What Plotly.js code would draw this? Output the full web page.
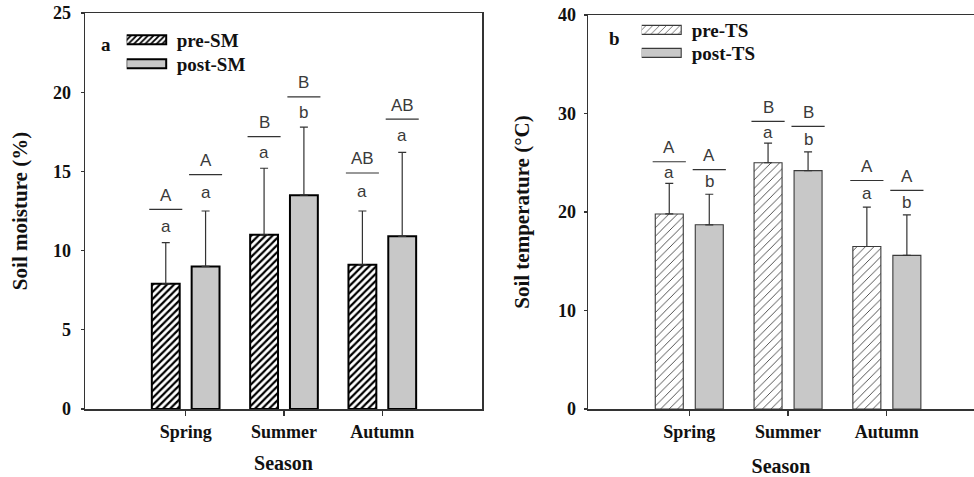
<!DOCTYPE html>
<html>
<head>
<meta charset="utf-8">
<script src="https://cdn.plot.ly/plotly-3.0.1.min.js"></script>
<style>html,body{margin:0;padding:0;background:#fff;}</style>
</head>
<body>
<div id="chart" style="width:974px;height:477px;"></div>
<script>
// ---- data ----
const seasons = ['Spring', 'Summer', 'Autumn'];
const seasonIdx = [0, 1, 2];

const preSM = [7.9, 11.0, 9.1];
const preSMErr = [2.6, 4.2, 3.4];
const postSM = [9.0, 13.5, 10.9];
const postSMErr = [3.5, 4.3, 5.3];

const preTS = [19.8, 25.0, 16.5];
const preTSErr = [3.1, 2.0, 4.0];
const postTS = [18.7, 24.2, 15.6];
const postTSErr = [3.1, 1.9, 4.1];

// significance letters (lowercase: within season pre vs post; uppercase: among seasons)
const preSMLower = ['a', 'a', 'a'];
const preSMUpper = ['A', 'B', 'AB'];
const preSMLine = [12.6, 17.2, 14.9];
const postSMLower = ['a', 'b', 'a'];
const postSMUpper = ['A', 'B', 'AB'];
const postSMLine = [14.8, 19.7, 18.3];

const preTSLower = ['a', 'a', 'a'];
const preTSUpper = ['A', 'B', 'A'];
const preTSLine = [25.1, 29.2, 23.2];
const postTSLower = ['b', 'b', 'b'];
const postTSUpper = ['A', 'B', 'A'];
const postTSLine = [24.3, 28.7, 22.2];

// ---- styling ----
const serif = 'Liberation Serif, Times New Roman, serif';
const sans = 'Liberation Sans, Arial, sans-serif';
const tickFont = {family: serif, size: 18, color: '#111', weight: 'bold'};
const titleFont = {family: serif, size: 20, color: '#111', weight: 'bold'};
const yTitleFont = {family: serif, size: 21, color: '#111', weight: 'bold'};
const legendFont = {family: serif, size: 19, color: '#111', weight: 'bold'};
const letterFont = {family: sans, size: 17, color: '#3a3a3a'};
const gray = '#c8c8c8';
const bargap = 0.19, bargroupgap = 0.3;
const halfSlot = (1 - bargap) / 4;
const lineHalf = 0.168;

const zeros = [0, 0, 0];
function bar(name, y, err, legend, xa, ya, hatched, heavy) {
  const lc = heavy ? '#000' : '#3a3a3a';
  const marker = {
    color: hatched ? '#ffffff' : gray,
    line: {color: lc, width: heavy ? 2 : 1.1}
  };
  if (hatched) {
    marker.pattern = heavy
      ? {shape: '/', fgcolor: '#000', bgcolor: '#fff', size: 5, solidity: 0.45, fillmode: 'replace'}
      : {shape: '/', fgcolor: '#333', bgcolor: '#fff', size: 6, solidity: 0.14, fillmode: 'replace'};
  }
  return {
    type: 'bar', name: name, x: seasonIdx, y: y, xaxis: xa, yaxis: ya, legend: legend,
    marker: marker,
    error_y: {type: 'data', symmetric: false, array: err, arrayminus: zeros,
              color: '#333', thickness: 1.2, width: 4},
    hoverinfo: 'x+y'
  };
}

const data = [
  bar('pre-SM', preSM, preSMErr, 'legend', 'x', 'y', true, true),
  bar('post-SM', postSM, postSMErr, 'legend', 'x', 'y', false, true),
  bar('pre-TS', preTS, preTSErr, 'legend2', 'x2', 'y2', true, false),
  bar('post-TS', postTS, postTSErr, 'legend2', 'x2', 'y2', false, false)
];

const annotations = [];
const shapes = [];
function sig(xref, yref, side, vals, errs, lines, lower, upper) {
  for (let i = 0; i < vals.length; i++) {
    const xc = seasonIdx[i] + side * halfSlot;
    shapes.push({type: 'line', xref: xref, yref: yref,
      x0: xc - lineHalf, x1: xc + lineHalf, y0: lines[i], y1: lines[i],
      line: {color: '#333', width: 1.2}});
    annotations.push({xref: xref, yref: yref, x: xc, y: (vals[i] + errs[i] + lines[i]) / 2,
      text: lower[i], showarrow: false, font: letterFont, yanchor: 'middle'});
    annotations.push({xref: xref, yref: yref, x: xc, y: lines[i], yshift: 14,
      text: upper[i], showarrow: false, font: letterFont, yanchor: 'middle'});
  }
}
sig('x', 'y', -1, preSM, preSMErr, preSMLine, preSMLower, preSMUpper);
sig('x', 'y', 1, postSM, postSMErr, postSMLine, postSMLower, postSMUpper);
sig('x2', 'y2', -1, preTS, preTSErr, preTSLine, preTSLower, preTSUpper);
sig('x2', 'y2', 1, postTS, postTSErr, postTSLine, postTSLower, postTSUpper);

// panel labels
annotations.push({xref: 'paper', yref: 'paper', x: (106 - 85) / 889, y: 1 - (45 - 13) / 396,
  text: 'a', showarrow: false, font: legendFont, xanchor: 'center', yanchor: 'middle'});
annotations.push({xref: 'paper', yref: 'paper', x: (614 - 85) / 889, y: 1 - (38 - 13) / 396,
  text: 'b', showarrow: false, font: legendFont, xanchor: 'center', yanchor: 'middle'});

const axisCommon = {
  showline: true, linecolor: '#333', linewidth: 1.5, showgrid: false, zeroline: false,
  ticks: 'outside', tickcolor: '#333', tickwidth: 1.2, tickfont: tickFont
};

const layout = {
  width: 974, height: 477,
  margin: {l: 85, r: 0, t: 13, b: 68},
  paper_bgcolor: '#fff', plot_bgcolor: '#fff',
  barmode: 'group', bargap: bargap, bargroupgap: bargroupgap,
  showlegend: true,
  xaxis: Object.assign({}, axisCommon, {
    domain: [0, 397 / 889], anchor: 'y', range: [-1.024, 3.014],
    tickvals: seasonIdx, ticktext: seasons, ticklen: 5, mirror: true, ticklabelstandoff: 1,
    title: {text: 'Season', font: titleFont, standoff: 15}
  }),
  yaxis: Object.assign({}, axisCommon, {
    domain: [0, 1], anchor: 'x', range: [0, 25], tickvals: [0, 5, 10, 15, 20, 25],
    ticklen: 3, mirror: true, ticklabelstandoff: 6,
    title: {text: 'Soil moisture (%)', font: yTitleFont, standoff: 19}
  }),
  xaxis2: Object.assign({}, axisCommon, {
    domain: [503 / 889, 1], anchor: 'y2', range: [-1.025, 2.882],
    tickvals: seasonIdx, ticktext: seasons, ticklen: 5, mirror: true, ticklabelstandoff: 1,
    title: {text: 'Season', font: titleFont, standoff: 19}
  }),
  yaxis2: Object.assign({}, axisCommon, {
    domain: [0, 394 / 396], anchor: 'x2', range: [0, 40], tickvals: [0, 10, 20, 30, 40],
    ticklen: 3, mirror: false, ticklabelstandoff: 4,
    title: {text: 'Soil temperature (°C)', font: yTitleFont, standoff: 22}
  }),
  legend: {x: (126.7 - 85) / 889, y: 1 - (21 - 13) / 396, xanchor: 'left', yanchor: 'top',
    bgcolor: 'rgba(0,0,0,0)', font: legendFont, itemwidth: 40, tracegroupgap: 0, borderwidth: 0},
  legend2: {x: (641.7 - 85) / 889, y: 1, xanchor: 'left', yanchor: 'top',
    bgcolor: 'rgba(0,0,0,0)', font: legendFont, itemwidth: 40, tracegroupgap: 0, borderwidth: 0},
  annotations: annotations,
  shapes: shapes
};

function fixLegends(gd) {
  // flat, wide swatches and tighter rows, as in the original figure
  const groups = gd.querySelectorAll('g.scrollbox');
  groups.forEach(function (box) {
    const items = box.querySelectorAll('g.traces');
    const isSecond = !!box.closest('.legend2');
    let y0 = null;
    items.forEach(function (tr, k) {
      const txt = tr.querySelector('text.legendtext');
      const tx = txt ? (parseFloat(txt.getAttribute('x')) || 50) : 50;
      const x1 = tx - 10.5, x0 = x1 - 40;
      tr.querySelectorAll('g.legendpoints path').forEach(function (p) {
        p.removeAttribute('transform');
        p.setAttribute('d', 'M' + x1 + ',4.5H' + x0 + 'V-4.5H' + x1 + 'Z');
      });
      if (!tr.hasAttribute('data-base')) {
        tr.setAttribute('data-base', tr.getAttribute('transform') || '');
      }
      const m = /translate\(\s*([-\d.]+)[ ,]+([-\d.]+)/.exec(tr.getAttribute('data-base'));
      if (m) {
        const x = parseFloat(m[1]), y = parseFloat(m[2]);
        if (y0 === null) y0 = y + (isSecond ? -2 : 0);
        tr.setAttribute('transform', 'translate(' + x + ',' + (y0 + k * (isSecond ? 23 : 24)) + ')');
      }
    });
  });
}

Plotly.newPlot('chart', data, layout, {displayModeBar: false, staticPlot: true}).then(function (gd) {
  fixLegends(gd);
  setTimeout(function () { fixLegends(gd); }, 50);
  setTimeout(function () { fixLegends(gd); }, 400);
});
</script>
</body>
</html>
